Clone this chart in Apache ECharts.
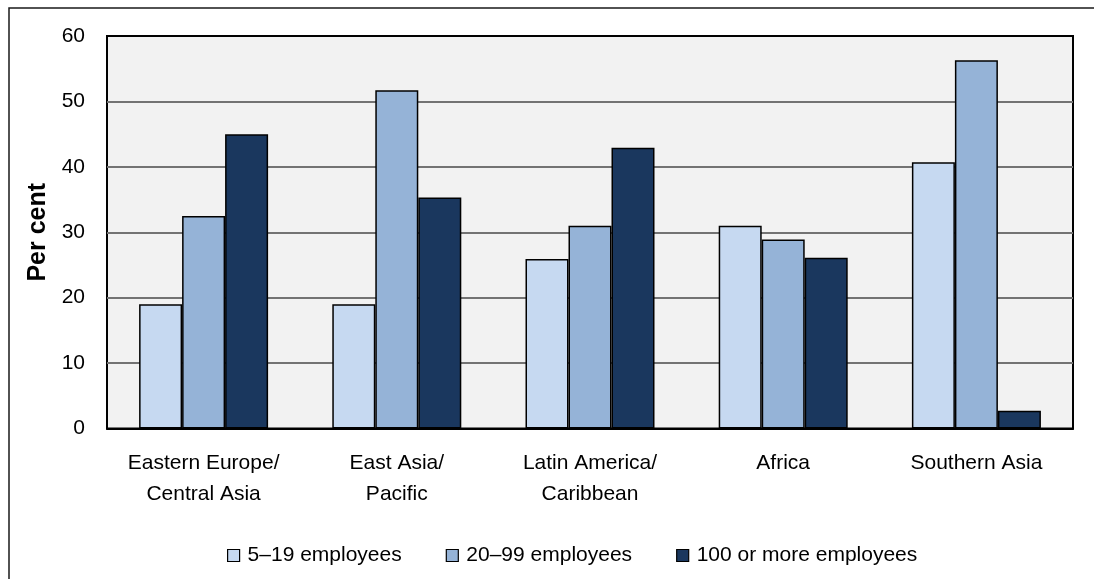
<!DOCTYPE html>
<html>
<head>
<meta charset="utf-8">
<script src="https://cdn.jsdelivr.net/npm/echarts@6/dist/echarts.min.js"></script>
<style>
  html, body { margin: 0; padding: 0; background: #ffffff; }
  #chart { width: 1094px; height: 579px; }
</style>
</head>
<body>
<div id="chart"></div>
<script>
// Regions along the category axis
const regions = [
  'Eastern Europe/\nCentral Asia',
  'East Asia/\nPacific',
  'Latin America/\nCaribbean',
  'Africa',
  'Southern Asia'
];

// Share of firms (per cent) by size class
const small = [19, 19, 25.9, 31.0, 40.7];     // 5–19 employees
const medium = [32.5, 51.7, 31.0, 28.9, 56.3]; // 20–99 employees
const large = [45.0, 35.3, 42.9, 26.1, 2.7];   // 100 or more employees

const seriesNames = ['5\u201319 employees', '20\u201399 employees', '100 or more employees'];
const yTicks = { min: 0, max: 60, interval: 10 };

const FONT = '"Liberation Sans", Arial, sans-serif';
const colors = ['#c6d9f1', '#95b3d7', '#1a375e'];

const chart = echarts.init(document.getElementById('chart'), null, { renderer: 'canvas' });

function barSeries(name, data, color) {
  return {
    name: name,
    type: 'bar',
    data: data,
    barWidth: 43,
    barGap: '0%',
    itemStyle: { color: color, borderColor: '#000000', borderWidth: 1.5 },
    emphasis: { disabled: true }
  };
}

chart.setOption({
  animation: false,
  backgroundColor: '#ffffff',
  textStyle: { fontFamily: FONT, color: '#000000' },
  graphic: [{
    // outer frame: left and top edges
    type: 'polyline',
    shape: { points: [[9, 700], [9, 8], [1200, 8]] },
    style: { fill: 'none', stroke: '#1a1a1a', lineWidth: 1.5 },
    silent: true,
    z: -10
  }],
  grid: {
    left: 107, right: 21, top: 36, bottom: 150.5,
    show: true,
    backgroundColor: '#f2f2f2',
    borderColor: '#000000',
    borderWidth: 2
  },
  legend: {
    left: 222,
    top: 540,
    itemWidth: 12,
    itemHeight: 12,
    itemGap: 44,
    icon: 'rect',
    selectedMode: false,
    itemStyle: { borderColor: '#000000', borderWidth: 1.2 },
    textStyle: { fontFamily: FONT, fontSize: 21, color: '#000000', padding: [0, 0, 0, 3] },
    data: seriesNames
  },
  xAxis: [{
    type: 'category',
    data: regions,
    z: 5,
    axisTick: { show: false },
    axisLine: { show: true, lineStyle: { color: '#000000', width: 2 } },
    axisLabel: {
      fontFamily: FONT,
      fontSize: 21,
      color: '#000000',
      lineHeight: 31,
      margin: 19,
      interval: 0
    }
  }, {
    // top edge of the plot frame
    type: 'category',
    data: regions,
    position: 'top',
    z: 5,
    axisTick: { show: false },
    axisLabel: { show: false },
    axisLine: { show: true, lineStyle: { color: '#000000', width: 2 } }
  }],
  yAxis: {
    type: 'value',
    min: yTicks.min,
    max: yTicks.max,
    interval: yTicks.interval,
    name: 'Per cent',
    nameLocation: 'middle',
    nameGap: 55,
    nameRotate: 90,
    nameTextStyle: { fontFamily: FONT, fontSize: 25, fontWeight: 'bold', color: '#000000' },
    axisLine: { show: false },
    axisTick: { show: false },
    axisLabel: { fontFamily: FONT, fontSize: 21, color: '#000000', margin: 22 },
    splitLine: { show: true, lineStyle: { color: '#737373', width: 2 } }
  },
  series: [
    barSeries(seriesNames[0], small, colors[0]),
    barSeries(seriesNames[1], medium, colors[1]),
    barSeries(seriesNames[2], large, colors[2])
  ]
});
</script>
</body>
</html>
